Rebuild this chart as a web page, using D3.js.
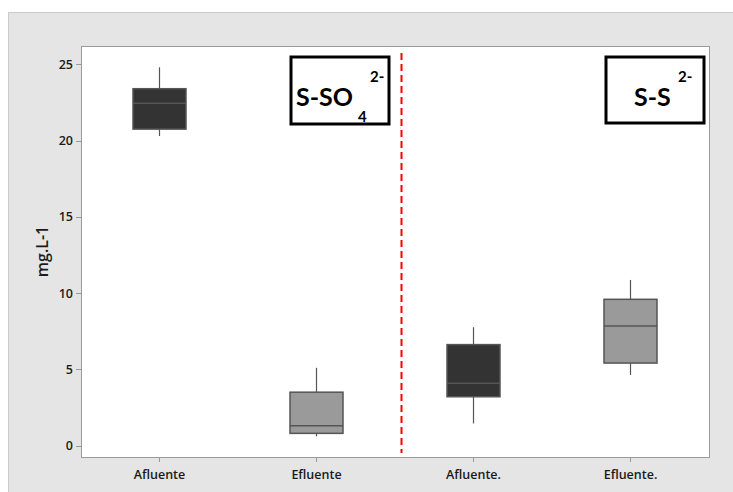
<!DOCTYPE html>
<html lang="es">
<head>
    <meta charset="UTF-8">
    <title>boxplot</title>
</head>
<style>
    body { margin: 0; background: #fff; }
    .axis text {
        font-family: "Open Sans", sans-serif;
        font-size: 12.5px;
        font-weight: 600;
        fill: #1a1a1a;
    }
    .axis path, .axis line {
        stroke: #9a9a9a;
        shape-rendering: crispEdges;
    }
</style>
<body>
<svg class="chart"></svg>
<script src="https://cdn.jsdelivr.net/npm/d3@7/dist/d3.min.js"></script>
<script>
    // datos
    var categories = ["Afluente", "Efluente", "Afluente.", "Efluente."]
    var whiskerLow = [20.3, 0.6, 1.45, 4.63]
    var q1 = [20.75, 0.8, 3.2, 5.41]
    var median = [22.45, 1.3, 4.08, 7.84]
    var q3 = [23.4, 3.5, 6.62, 9.59]
    var whiskerHigh = [24.8, 5.1, 7.76, 10.86]
    var boxColors = ["#333333", "#9a9a9a", "#333333", "#9a9a9a"]
    var yTicks = [0, 5, 10, 15, 20, 25]

    var W = 733, H = 492
    var svg = d3.select('.chart').attr('width', W).attr('height', H)

    // fondo gris
    svg.append('rect')
        .attr('x', 8.5).attr('y', 12.5)
        .attr('width', W - 8).attr('height', H - 12)
        .attr('fill', '#e5e5e5').attr('stroke', '#cbcbcb')

    // límites del área del gráfico
    var pLeft = 81, pRight = 709, pTop = 46, pBottom = 457

    svg.append('rect')
        .attr('x', pLeft).attr('y', pTop)
        .attr('width', pRight - pLeft).attr('height', pBottom - pTop)
        .attr('fill', '#fff')
        .attr('stroke', '#9a9a9a')
        .attr('shape-rendering', 'crispEdges')

    var x = d3.scaleBand().domain(categories).range([pLeft, pRight])
    var y = d3.scaleLinear().domain([-0.75, 26.2]).range([pBottom, pTop])

    var boxW = 53

    // ejes
    svg.append('g')
        .attr('class', 'axis')
        .attr('transform', 'translate(' + pLeft + ',0)')
        .call(d3.axisLeft(y).tickValues(yTicks).tickSize(5).tickPadding(3))
        .call(function (g) { g.select('.domain').remove() })

    svg.append('g')
        .attr('class', 'axis')
        .attr('transform', 'translate(0,' + pBottom + ')')
        .call(d3.axisBottom(x).tickSize(5).tickPadding(8))
        .call(function (g) { g.select('.domain').remove() })

    // cajas
    var boxes = svg.selectAll('.box')
        .data(categories)
        .enter()
        .append('g')
        .attr('class', 'box')
        .attr('transform', function (d) { return 'translate(' + (x(d) + x.bandwidth() / 2) + ',0)' })

    boxes.append('line')
        .attr('x1', 0).attr('x2', 0)
        .attr('y1', function (d, i) { return y(whiskerHigh[i]) })
        .attr('y2', function (d, i) { return y(q3[i]) })
        .attr('stroke', '#555').attr('stroke-width', 1.2)

    boxes.append('line')
        .attr('x1', 0).attr('x2', 0)
        .attr('y1', function (d, i) { return y(q1[i]) })
        .attr('y2', function (d, i) { return y(whiskerLow[i]) })
        .attr('stroke', '#555').attr('stroke-width', 1.2)

    boxes.append('rect')
        .attr('x', -boxW / 2)
        .attr('width', boxW)
        .attr('y', function (d, i) { return y(q3[i]) })
        .attr('height', function (d, i) { return y(q1[i]) - y(q3[i]) })
        .attr('fill', function (d, i) { return boxColors[i] })
        .attr('stroke', '#555').attr('stroke-width', 1.5)

    boxes.append('line')
        .attr('x1', -boxW / 2).attr('x2', boxW / 2)
        .attr('y1', function (d, i) { return y(median[i]) })
        .attr('y2', function (d, i) { return y(median[i]) })
        .attr('stroke', '#555').attr('stroke-width', 1.5)

    // línea roja punteada
    svg.append('line')
        .attr('x1', 401.5).attr('x2', 401.5)
        .attr('y1', 53).attr('y2', 453)
        .attr('stroke', '#ff0000').attr('stroke-width', 2)
        .attr('stroke-dasharray', '7,4')

    // título eje y
    svg.append('text')
        .attr('transform', 'translate(48,' + ((pTop + pBottom) / 2) + ') rotate(-90)')
        .attr('text-anchor', 'middle')
        .style('font-family', '"Open Sans", sans-serif')
        .style('font-size', '16px')
        .style('font-weight', '600')
        .style('fill', '#1a1a1a')
        .text('mg.L-1')

    // cuadros de etiquetas
    function label(bx, by, bw, bh, main, sub, sup, tx, ty, subX, supX) {
        svg.append('rect')
            .attr('x', bx).attr('y', by).attr('width', bw).attr('height', bh)
            .attr('fill', '#fff').attr('stroke', '#000').attr('stroke-width', 3)
        var t = svg.append('text')
            .attr('x', tx).attr('y', ty)
            .style('font-family', 'Lato, "Open Sans", sans-serif')
            .style('font-weight', 'bold')
            .style('font-size', '25px')
            .style('fill', '#000')
        t.append('tspan').text(main)
        if (sub) {
            t.append('tspan').attr('x', subX).attr('y', ty + 16).style('font-size', '15px').text(sub)
        }
        t.append('tspan').attr('x', supX).attr('y', ty - 24).style('font-size', '15px').text(sup)
    }
    label(291, 57, 98, 67, 'S-SO', '4', '2-', 296, 106, 358, 370)
    label(606, 57, 98, 66, 'S-S', null, '2-', 634, 106, null, 678)
</script>
</body>
</html>
